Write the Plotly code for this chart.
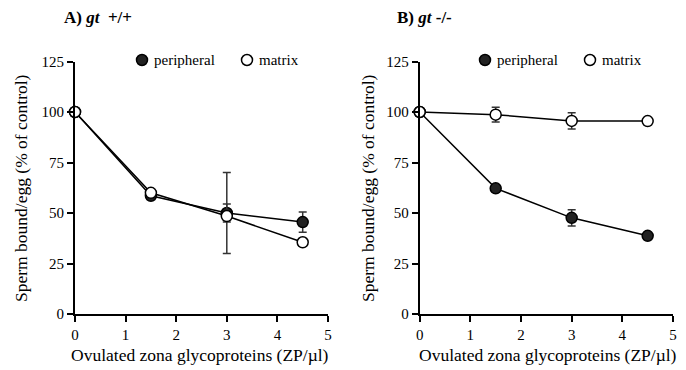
import plotly.graph_objects as go

# ---- data ----
conc = [0, 1.5, 3, 4.5]

# A) gt +/+
a_periph = [100, 58.5, 50, 45.5]
a_periph_err = [0, 0, 4.5, 5]
a_matrix = [100, 60, 48.5, 35.5]
a_matrix_err_up = [0, 0, 21.5, 0]
a_matrix_err_dn = [0, 0, 18.5, 0]

# B) gt -/-
b_periph = [100, 62.2, 47.6, 38.7]
b_periph_err = [0, 0, 4, 0]
b_matrix = [100, 98.7, 95.6, 95.5]
b_matrix_err = [0, 3.6, 4, 0]

x_ticks = [0, 1, 2, 3, 4, 5]
y_ticks = [0, 25, 50, 75, 100, 125]

panel_titles = ["<b>A) <i>gt</i>  +/+</b>", "<b>B) <i>gt</i> -/-</b>"]
x_title = "Ovulated zona glycoproteins (ZP/µl)"
y_title = "Sperm bound/egg (% of control)"
legend_names = ["peripheral", "matrix"]

FONT = "Liberation Serif"
W, H = 686, 370

fig = go.Figure()

def add_series(y, err_up, err_dn, filled, xa, ya):
    fig.add_trace(go.Scatter(
        x=conc, y=y, mode="lines+markers", xaxis=xa, yaxis=ya,
        line=dict(color="black", width=1.5),
        marker=dict(size=11, symbol="circle",
                    color="#222222" if filled else "white",
                    line=dict(color="black", width=1.5)),
        error_y=dict(type="data", array=err_up, arrayminus=err_dn,
                     symmetric=False, color="#333333", thickness=1.5, width=4),
        cliponaxis=False, showlegend=False))

add_series(a_periph, a_periph_err, a_periph_err, True, "x", "y")
add_series(a_matrix, a_matrix_err_up, a_matrix_err_dn, False, "x", "y")
add_series(b_periph, b_periph_err, b_periph_err, True, "x2", "y2")
add_series(b_matrix, b_matrix_err, b_matrix_err, False, "x2", "y2")

def px_x(p):
    return p / W

def px_y(p):
    return 1 - p / H

ydom = [px_y(314), px_y(61.5)]
axis_common = dict(
    showgrid=False, zeroline=False, showline=True, linecolor="black",
    linewidth=2, ticks="outside", ticklen=6, tickwidth=1.5, tickcolor="black",
    automargin=False,
    tickfont=dict(family=FONT, size=15, color="black"), fixedrange=True)

fig.update_layout(
    width=W, height=H, margin=dict(l=0, r=0, t=0, b=0, pad=0, autoexpand=False),
    paper_bgcolor="white", plot_bgcolor="white",
    font=dict(family=FONT, color="black"),
    xaxis=dict(domain=[px_x(75), px_x(328)], range=[0, 5], tickvals=x_ticks,
               anchor="y", **axis_common),
    yaxis=dict(domain=ydom, range=[0, 125], tickvals=y_ticks, anchor="x",
               **axis_common),
    xaxis2=dict(domain=[px_x(419.7), px_x(673)], range=[0, 5], tickvals=x_ticks,
                anchor="y2", **axis_common),
    yaxis2=dict(domain=ydom, range=[0, 125], tickvals=y_ticks, anchor="x2",
                **axis_common),
)

annotations = []
shapes = []
panels = [
    dict(title_x=62, ytitle_x=21, xtitle_x=200, leg=[142, 247]),
    dict(title_x=395, ytitle_x=368, xtitle_x=548, leg=[485, 590]),
]
for i, p in enumerate(panels):
    annotations.append(dict(text=panel_titles[i], x=px_x(p["title_x"]), y=px_y(18),
                            xref="paper", yref="paper", xanchor="left", yanchor="middle",
                            showarrow=False, font=dict(family=FONT, size=17)))
    annotations.append(dict(text=y_title, x=px_x(p["ytitle_x"]), y=px_y(188),
                            xref="paper", yref="paper", xanchor="center", yanchor="middle",
                            textangle=-90, showarrow=False, font=dict(family=FONT, size=17.5)))
    annotations.append(dict(text=x_title, x=px_x(p["xtitle_x"]), y=px_y(355),
                            xref="paper", yref="paper", xanchor="center", yanchor="middle",
                            showarrow=False, font=dict(family=FONT, size=17.5)))
    for j, cx in enumerate(p["leg"]):
        shapes.append(dict(type="circle", xref="paper", yref="paper",
                           xsizemode="pixel", ysizemode="pixel",
                           xanchor=px_x(cx), yanchor=px_y(60),
                           x0=-5.5, x1=5.5, y0=-5.5, y1=5.5,
                           fillcolor="#222222" if j == 0 else "white",
                           line=dict(color="black", width=1.5)))
        annotations.append(dict(text=legend_names[j], x=px_x(cx + 10), y=px_y(60),
                                xref="paper", yref="paper", xanchor="left",
                                yanchor="middle", showarrow=False,
                                font=dict(family=FONT, size=15)))

fig.update_layout(annotations=annotations, shapes=shapes)
fig.write_html("out.html")
